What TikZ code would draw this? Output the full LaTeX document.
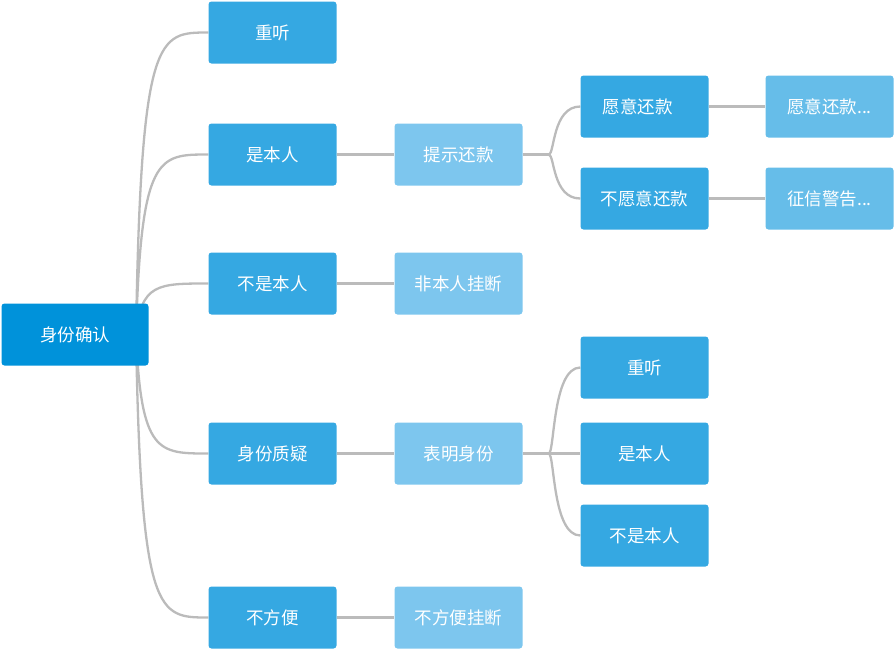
\documentclass[tikz,border=0pt]{standalone}
\usepackage{fontspec}
\setmainfont{Noto Sans CJK SC}
\usetikzlibrary{backgrounds}
\definecolor{rootc}{HTML}{0092DA}
\definecolor{mainc}{HTML}{35A8E2}
\definecolor{subc}{HTML}{7DC6EE}
\definecolor{leafc}{HTML}{66BDE9}
\definecolor{linec}{HTML}{BBBBBB}
\begin{document}
\begin{tikzpicture}[x=1pt,y=-1pt,
  box/.style={rounded corners=3pt, minimum width=128pt, minimum height=62pt, inner sep=0pt, text=white, font=\fontsize{17.5}{21}\selectfont},
  rootbox/.style={box, fill=rootc, minimum width=147pt},
  mainbox/.style={box, fill=mainc},
  subbox/.style={box, fill=subc},
  leafbox/.style={box, fill=leafc},
  conn/.style={draw=linec, line width=2.3pt}]
\useasboundingbox (0,0) rectangle (894,649);
\node[rootbox] (root) at (75,334.5) {身份确认};
\node[mainbox] (a1) at (272.5,32.5) {重听};
\node[mainbox] (a2) at (272.5,154.5) {是本人};
\node[mainbox] (a3) at (272.5,283.5) {不是本人};
\node[mainbox] (a4) at (272.5,453.5) {身份质疑};
\node[mainbox] (a5) at (272.5,617.5) {不方便};
\node[subbox] (b2) at (458.5,154.5) {提示还款};
\node[subbox] (b3) at (458.5,283.5) {非本人挂断};
\node[subbox] (b4) at (458.5,453.5) {表明身份};
\node[subbox] (b5) at (458.5,617.5) {不方便挂断};
\node[mainbox] (c1) at (644.5,106.5) {\hspace*{-14pt}愿意还款};
\node[mainbox] (c2) at (644.5,198.5) {不愿意还款};
\node[mainbox] (c3) at (644.5,367.5) {重听};
\node[mainbox] (c4) at (644.5,453.5) {是本人};
\node[mainbox] (c5) at (644.5,535.5) {不是本人};
\node[leafbox] (d1) at (829.5,106.5) {愿意还款...};
\node[leafbox] (d2) at (829.5,198.5) {征信警告...};
\coordinate (rs) at (136,334.5);
\coordinate (j2) at ([xshift=26pt]b2.east);
\coordinate (j4) at ([xshift=26pt]b4.east);
\begin{scope}[on background layer]
\foreach \n in {a1,a2,a3,a4,a5}
  \draw[conn] (rs) .. controls ([xshift=5pt]rs |- \n.west) and ([xshift=22pt]rs |- \n.west) .. (\n.west);
\draw[conn] (a2.east) -- (b2.west);
\draw[conn] (a3.east) -- (b3.west);
\draw[conn] (a4.east) -- (b4.west);
\draw[conn] (a5.east) -- (b5.west);
\draw[conn] (b2.east) -- (j2);
\draw[conn] (b4.east) -- (j4);
\foreach \n in {c1,c2}
  \draw[conn] (j2) .. controls ([xshift=6pt]j2) and ([xshift=-28pt]\n.west) .. (\n.west);
\foreach \n in {c3,c4,c5}
  \draw[conn] (j4) .. controls ([xshift=6pt]j4) and ([xshift=-28pt]\n.west) .. (\n.west);
\draw[conn] (c1.east) -- (d1.west);
\draw[conn] (c2.east) -- (d2.west);
\end{scope}
\end{tikzpicture}
\end{document}
